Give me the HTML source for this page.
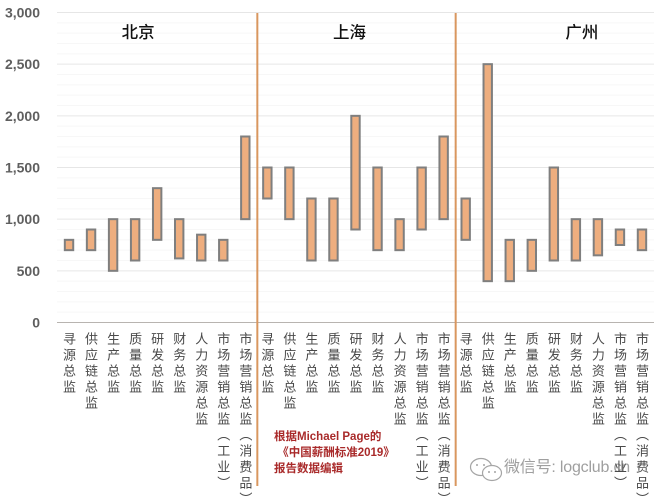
<!DOCTYPE html>
<html lang="zh">
<head>
<meta charset="utf-8">
<title>中国薪酬标准 2019</title>
<style>
html,body{margin:0;padding:0;background:#fff;}
#chart-root{position:relative;width:659px;height:500px;overflow:hidden;background:#fff;font-family:"Liberation Sans","Noto Sans CJK SC",sans-serif;filter:blur(0.35px);}
#chart{position:absolute;left:0;top:0;}
.cat{position:absolute;top:332px;writing-mode:vertical-rl;text-orientation:upright;font-size:13px;line-height:14px;width:14px;letter-spacing:3px;color:#4a4a4a;white-space:nowrap;font-family:"Noto Sans CJK SC",sans-serif;}
.note{position:absolute;left:274px;top:429px;color:#a92a2a;font-size:11.5px;line-height:16px;font-weight:bold;white-space:nowrap;}
.mark{position:absolute;left:504px;top:456px;color:#8f8f8f;font-size:16px;line-height:24px;letter-spacing:-0.2px;white-space:nowrap;opacity:.85;}
</style>
</head>
<body>
<div id="chart-root">
<svg id="chart" width="659" height="500" viewBox="0 0 659 500" xmlns="http://www.w3.org/2000/svg"></svg>
<div class="note">根据Michael Page的<br>&nbsp;《中国薪酬标准2019》<br>报告数据编辑</div>
<svg style="position:absolute;left:469px;top:457px" width="36" height="26" viewBox="0 0 36 26">
<ellipse cx="12" cy="10" rx="10.5" ry="8.5" fill="#fff" stroke="#a5a5a5" stroke-width="1.2"/>
<ellipse cx="23" cy="16" rx="9.5" ry="7.5" fill="#fff" stroke="#a5a5a5" stroke-width="1.2"/>
<circle cx="20" cy="15" r="1" fill="#a5a5a5"/><circle cx="26" cy="15" r="1" fill="#a5a5a5"/>
<circle cx="8" cy="8" r="1" fill="#a5a5a5"/><circle cx="15" cy="8" r="1" fill="#a5a5a5"/>
</svg>
<div class="mark">微信号: logclub.cn</div>
</div>
<script>
const categories = ["寻源总监","供应链总监","生产总监","质量总监","研发总监","财务总监","人力资源总监","市场营销总监（工业）","市场营销总监（消费品）"];
const cities = ["北京","上海","广州"];
const lowBeijing = [700,700,500,600,800,620,600,600,1000];
const highBeijing = [800,900,1000,1000,1300,1000,850,800,1800];
const lowShanghai = [1200,1000,600,600,900,700,700,900,1000];
const highShanghai = [1500,1500,1200,1200,2000,1500,1000,1500,1800];
const lowGuangzhou = [800,400,400,500,600,600,650,750,700];
const highGuangzhou = [1200,2500,800,800,1500,1000,1000,900,900];
const yTicks = [0,500,1000,1500,2000,2500,3000];
const yMinorTicks = [100,200,300,400,600,700,800,900,1100,1200,1300,1400,1600,1700,1800,1900,2100,2200,2300,2400,2600,2700,2800,2900];

const lows = [lowBeijing, lowShanghai, lowGuangzhou];
const highs = [highBeijing, highShanghai, highGuangzhou];
const titleOffsets = [-19, -6, 28];
const svg = document.getElementById('chart');
const root = document.getElementById('chart-root');
const NS = 'http://www.w3.org/2000/svg';
const plotLeft = 58, plotRight = 653, y0 = 322.5, yTop = 12.5, yMax = 3000;
const band = (plotRight - plotLeft) / (cities.length * categories.length);
function yScale(v){ return y0 - (v / yMax) * (y0 - yTop); }
function xScale(cityIndex, catIndex){ return plotLeft + band * (cityIndex * categories.length + catIndex + 0.5); }
function make(tag, attrs){
  const el = document.createElementNS(NS, tag);
  for (const k in attrs) el.setAttribute(k, attrs[k]);
  return el;
}
yMinorTicks.forEach(function(t){
  const l = make('line', {x1: 57, x2: 654, y1: yScale(t), y2: yScale(t), stroke: '#f7f7f7', 'stroke-width': 1});
  
  
  svg.appendChild(l);
});
yTicks.forEach(function(t){
  const l = make('line', {x1: 57, x2: 654, y1: yScale(t), y2: yScale(t), stroke: t === 0 ? '#b8b4b0' : '#e6e6e6', 'stroke-width': 1});
  
  
  svg.appendChild(l);
  const lab = make('text', {x: 40, y: yScale(t) + 5, 'text-anchor': 'end', 'font-size': 14, 'font-weight': 'bold', fill: '#5f5f5f', 'font-family': '"Liberation Sans",sans-serif'});
  lab.textContent = t.toLocaleString('en-US');
  
  
  svg.appendChild(lab);
});
cities.forEach(function(city, c){
  const cx = xScale(c, (categories.length - 1) / 2) + titleOffsets[c];
  const title = make('text', {x: cx, y: 38, 'text-anchor': 'middle', 'font-size': 16.5, 'font-weight': 500, fill: '#111', 'font-family': '"Noto Sans CJK SC",sans-serif'});
  title.textContent = city;
  
  
  svg.appendChild(title);
  categories.forEach(function(name, i){
    const x = xScale(c, i);
    const top = yScale(highs[c][i]);
    const bottom = yScale(lows[c][i]);
    const bar = make('rect', {x: x - 4.2, y: top, width: 8.4, height: bottom - top, fill: '#eeae7f', stroke: '#7f7f7f', 'stroke-width': 2});
    
    
    svg.appendChild(bar);
    const lab = document.createElement('div');
    lab.className = 'cat';
    lab.style.left = (x - 7) + 'px';
    lab.textContent = name;
    
    
    root.appendChild(lab);
  });
});
for (let c = 1; c < cities.length; c++) {
  const x = plotLeft + band * c * categories.length + 1;
  const sep = make('line', {x1: x, x2: x, y1: 13, y2: 486, stroke: '#d9975f', 'stroke-width': 2});
  
  
  svg.appendChild(sep);
}
</script>
</body>
</html>
